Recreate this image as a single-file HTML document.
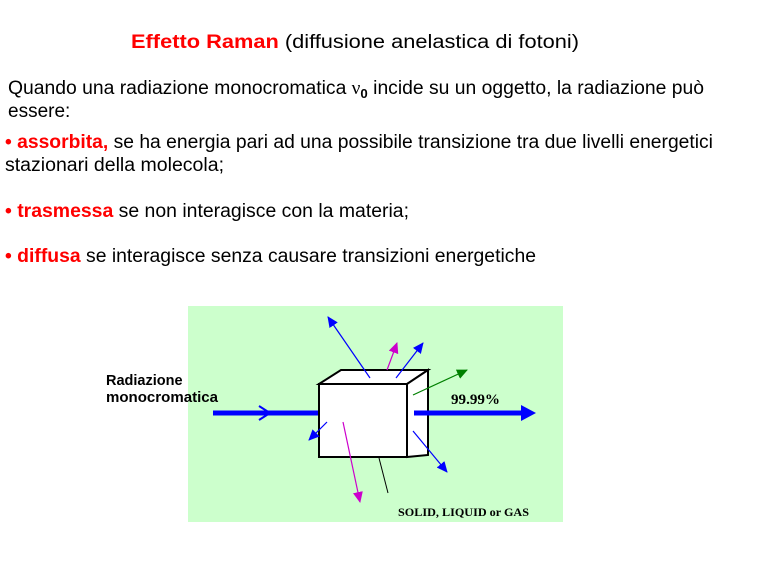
<!DOCTYPE html>
<html><head><meta charset="utf-8"><style>
html,body{margin:0;padding:0;background:#fff;width:768px;height:576px;overflow:hidden}
svg{display:block}
</style></head><body>
<svg width="768" height="576" viewBox="0 0 768 576" xmlns="http://www.w3.org/2000/svg" font-family="Liberation Sans, Arial, sans-serif">
<g font-size="19" fill="#000">
<text x="131" y="48" textLength="448" lengthAdjust="spacingAndGlyphs"><tspan fill="#ff0000" font-weight="bold">Effetto Raman</tspan> (diffusione anelastica di fotoni)</text>
<text x="8" y="94" textLength="696" lengthAdjust="spacingAndGlyphs">Quando una radiazione monocromatica <tspan font-family="Liberation Serif, serif">ν</tspan><tspan font-size="13" font-weight="bold" dy="4">0</tspan><tspan dy="-4"> incide su un oggetto, la radiazione può</tspan></text>
<text x="8" y="117">essere:</text>
<text x="5" y="148" textLength="708" lengthAdjust="spacingAndGlyphs"><tspan fill="#ff0000" font-weight="bold">• assorbita,</tspan>  se ha energia pari ad una possibile transizione tra due livelli energetici</text>
<text x="5" y="171" textLength="219" lengthAdjust="spacingAndGlyphs">stazionari della molecola;</text>
<text x="5" y="217" textLength="404" lengthAdjust="spacingAndGlyphs"><tspan fill="#ff0000" font-weight="bold">• trasmessa</tspan> se non interagisce con la materia;</text>
<text x="5" y="262" textLength="531" lengthAdjust="spacingAndGlyphs"><tspan fill="#ff0000" font-weight="bold">• diffusa</tspan> se interagisce senza causare transizioni energetiche</text>
</g>
<rect x="188" y="306" width="375" height="216" fill="#ccffcc"/>
<g font-size="14.5" font-weight="bold"><text x="106" y="385">Radiazione</text><text x="106" y="402" textLength="112" lengthAdjust="spacingAndGlyphs">monocromatica</text></g>
<defs>
<marker id="b" markerWidth="11" markerHeight="10" refX="10" refY="5" orient="auto" markerUnits="userSpaceOnUse"><path d="M0,0 L11,5 L0,10 Z" fill="#0000ff"/></marker>
<marker id="m" markerWidth="11" markerHeight="10" refX="10" refY="5" orient="auto" markerUnits="userSpaceOnUse"><path d="M0,0 L11,5 L0,10 Z" fill="#cc00cc"/></marker>
<marker id="g" markerWidth="11" markerHeight="10" refX="10" refY="5" orient="auto" markerUnits="userSpaceOnUse"><path d="M0,0 L11,5 L0,10 Z" fill="#008000"/></marker>
</defs>
<line x1="213" y1="413" x2="318" y2="413" stroke="#0000ff" stroke-width="5"/>
<path d="M259,406 L270,413 L259,420" fill="none" stroke="#0000ff" stroke-width="2"/>
<path d="M319,384 L341,370 L428,370 L407,384 Z" fill="#fff" stroke="#000" stroke-width="2"/>
<path d="M407,384 L428,370 L428,455 L407,457 Z" fill="#fff" stroke="#000" stroke-width="2"/>
<rect x="319" y="384" width="88" height="73" fill="#fff" stroke="#000" stroke-width="2"/>
<line x1="414" y1="413" x2="522" y2="413" stroke="#0000ff" stroke-width="5"/>
<path d="M521,405 L536,413 L521,421 Z" fill="#0000ff"/>
<line x1="370" y1="378" x2="328" y2="317" stroke="#0000ff" stroke-width="1.2" marker-end="url(#b)"/>
<line x1="387" y1="370" x2="397" y2="343" stroke="#cc00cc" stroke-width="1.2" marker-end="url(#m)"/>
<line x1="396" y1="378" x2="423" y2="343" stroke="#0000ff" stroke-width="1.2" marker-end="url(#b)"/>
<line x1="413" y1="395" x2="467" y2="370" stroke="#008000" stroke-width="1.2" marker-end="url(#g)"/>
<line x1="413" y1="431" x2="447" y2="472" stroke="#0000ff" stroke-width="1.2" marker-end="url(#b)"/>
<line x1="327" y1="422" x2="309" y2="440" stroke="#0000ff" stroke-width="1.2" marker-end="url(#b)"/>
<line x1="343" y1="422" x2="360" y2="502" stroke="#cc00cc" stroke-width="1.2" marker-end="url(#m)"/>
<line x1="379" y1="458" x2="388" y2="493" stroke="#000" stroke-width="1"/>
<g font-family="Liberation Serif, serif" font-weight="bold" fill="#000">
<text x="451" y="404" font-size="15" textLength="49" lengthAdjust="spacingAndGlyphs">99.99%</text>
<text x="398" y="516" font-size="11.5" textLength="131" lengthAdjust="spacingAndGlyphs">SOLID, LIQUID or GAS</text>
</g>
</svg>
</body></html>
